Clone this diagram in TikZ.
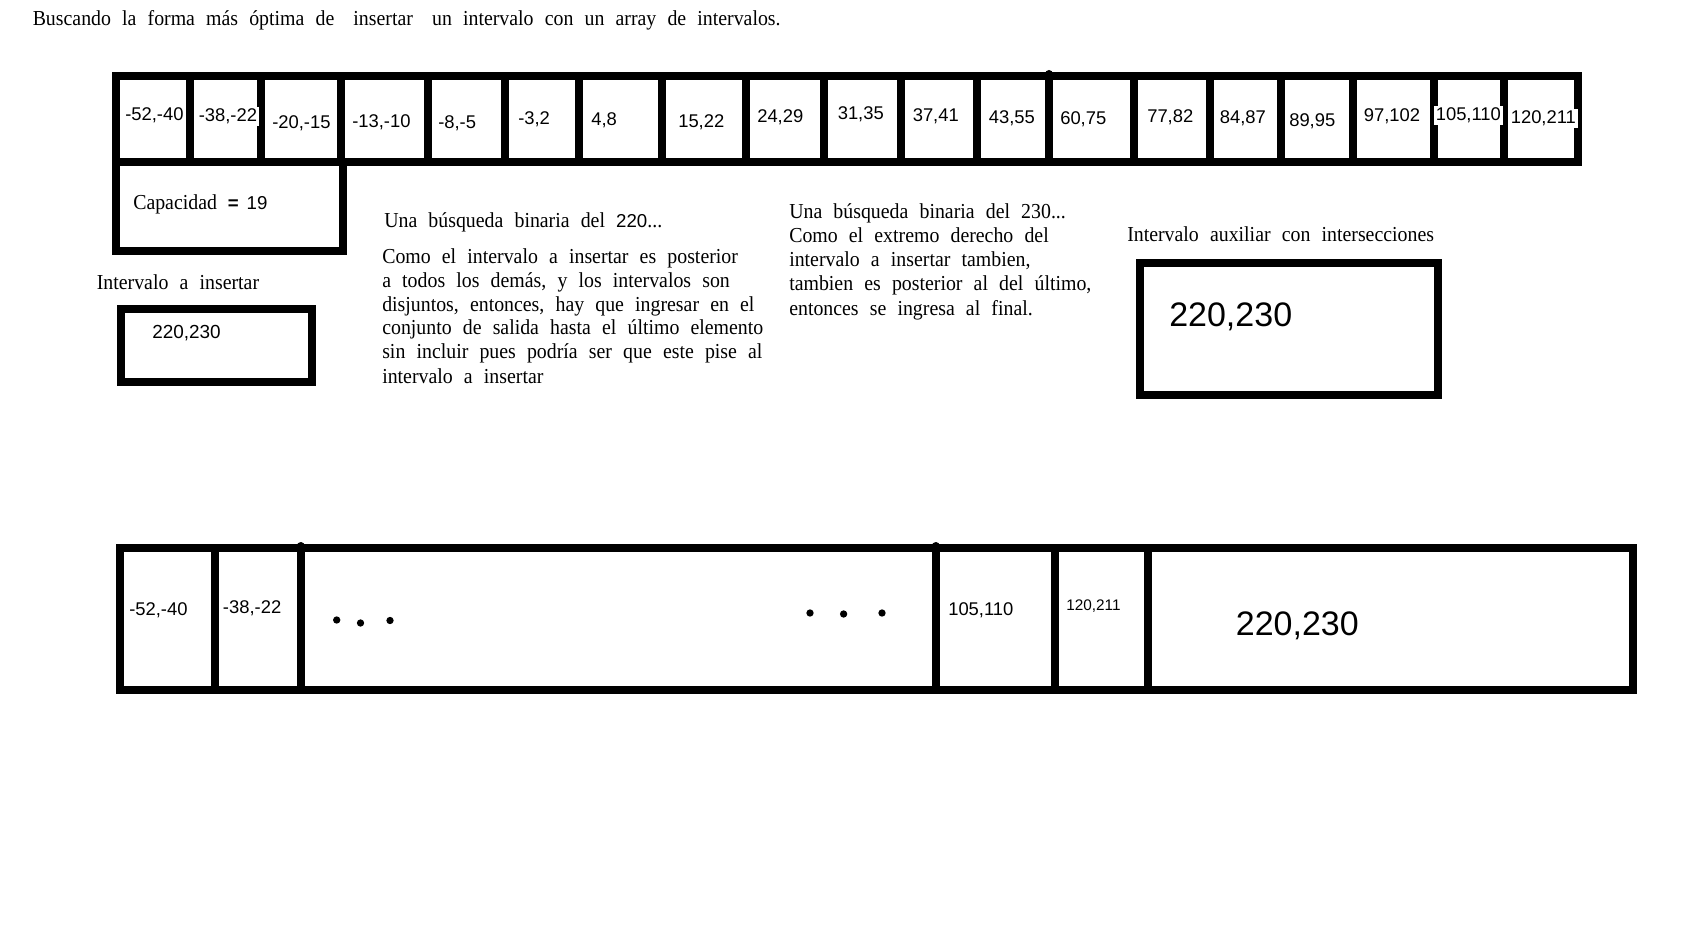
\documentclass[tikz,border=0pt]{standalone}
\usepackage{fontspec}
\newfontfamily\lserif{Liberation Serif}[FakeStretch=0.93,WordSpace=2.25]
\newfontfamily\lsans{Liberation Sans}
\begin{document}
\begin{tikzpicture}[x=0.75pt,y=-0.75pt,
  frame/.style={line width=6pt},
  sepline/.style={line width=6pt},
  txt/.style={font=\lserif\fontsize{16pt}{18pt}\selectfont, inner sep=0pt, anchor=base west},
  num/.style={font=\lsans\fontsize{13.8pt}{16pt}\selectfont, inner sep=0pt, anchor=base west},
  numw/.style={num, fill=white, inner sep=1.5pt},
  big/.style={font=\lsans\fontsize{25.5pt}{28pt}\selectfont, inner sep=0pt, anchor=base west},
  dotm/.style={circle, fill=black, inner sep=0pt, minimum size=5.5pt}]
\useasboundingbox (0,0) rectangle (1683,930);

% title
\node[txt] (title) at (32.5,26) {Buscando la forma más óptima de\hspace{6pt} insertar\hspace{6pt} un intervalo con un array de intervalos.};

% top array
\draw[frame] (115.7,76) rectangle (1578,162);
\foreach \xx in {190,261,341,428,505,579,662,746,824,901,977,1134,1210,1281,1353,1434,1504}
  \draw[sepline] (\xx,76) -- (\xx,162);
\draw[sepline, line cap=round] (1049,74) -- (1049,162);

\foreach \xx/\yy/\tt [count=\i] in {125/114/{-52,-40},272/121.5/{-20,-15},352/120.5/{-13,-10},438/121.5/{-8,-5},518/118/{-3,2},591/119/{4,8},678/121.3/{15,22},757/116/{24,29},837.5/112.7/{31,35},912.5/114.8/{37,41},988.6/117/{43,55},1060/118/{60,75},1147/116/{77,82},1219.6/117/{84,87},1289/120.2/{89,95},1363.6/114.8/{97,102}}
  \node[num] (c\i) at (\xx,\yy+6.6) {\tt};
\node[numw] (cb) at (196.5,115+6.6) {-38,-22};
\node[numw] (cr) at (1433.5,113.8+6.6) {105,110};
\node[numw] (cs) at (1508.5,117+6.6) {120,211};

% capacity box
\draw[frame] (115.7,162) rectangle (343,251);
\node[txt] (cap) at (133,209.5) {Capacidad};
\node[num, font=\lsans\fontsize{14pt}{16pt}\selectfont] (capn) at (227.5,209.5) {\textbf{=}\hspace{6pt}19};

% interval to insert
\node[txt] (lblins) at (96.6,289.5) {Intervalo a insertar};
\draw[frame] (121,309) rectangle (311.5,382.4);
\node[num, font=\lsans\fontsize{14.2pt}{16pt}\selectfont] (ins) at (152,331.6+6.8) {220,230};

% middle text
\node[txt] (m0) at (384,227.5) {Una búsqueda binaria del {\lsans\fontsize{14pt}{16pt}\selectfont 220}...};
\node[txt] (m1) at (382,264) {Como el intervalo a insertar es posterior};
\node[txt] (m2) at (382,287.6) {a todos los demás, y los intervalos son};
\node[txt] (m3) at (382,311.2) {disjuntos, entonces, hay que ingresar en el};
\node[txt] (m4) at (382,334.8) {conjunto de salida hasta el último elemento};
\node[txt] (m5) at (382,358.4) {sin incluir pues podría ser que este pise al};
\node[txt] (m6) at (382,383) {intervalo a insertar};

% right text
\node[txt] (r0) at (789,219) {Una búsqueda binaria del 230...};
\node[txt] (r1) at (789,242.5) {Como el extremo derecho del};
\node[txt] (r2) at (789,267) {intervalo a insertar tambien,};
\node[txt] (r3) at (789,290.8) {tambien es posterior al del último,};
\node[txt] (r4) at (789,315.4) {entonces se ingresa al final.};

% auxiliary
\node[txt] (aux) at (1127,241.5) {Intervalo auxiliar con intersecciones};
\draw[frame] (1140,263) rectangle (1438,395);
\node[big] (auxv) at (1169,314.5+12.2) {220,230};

% bottom array
\draw[frame] (120,548) rectangle (1633,690);
\foreach \xx in {215,1055,1148}
  \draw[sepline] (\xx,548) -- (\xx,690);
\draw[sepline, line cap=round] (300.5,546) -- (300.5,688);
\draw[sepline, line cap=round] (935.6,546) -- (935.6,688);
\node[num] (b1) at (129,609+6.6) {-52,-40};
\node[num] (b2) at (222.7,606.5+6.6) {-38,-22};
\node[dotm] (d1) at (336.7,620) {};
\node[dotm] (d2) at (360.5,623) {};
\node[dotm] (d3) at (390,620.5) {};
\node[dotm] (d4) at (810,613) {};
\node[dotm] (d5) at (843.6,614) {};
\node[dotm] (d6) at (882,613) {};
\node[num] (b3) at (948,609+6.6) {105,110};
\node[num, font=\lsans\fontsize{11.5pt}{13pt}\selectfont] (b4) at (1066,605+5.5) {120,211};
\node[big] (b5) at (1235.6,623.5+12.2) {220,230};
\end{tikzpicture}
\end{document}
